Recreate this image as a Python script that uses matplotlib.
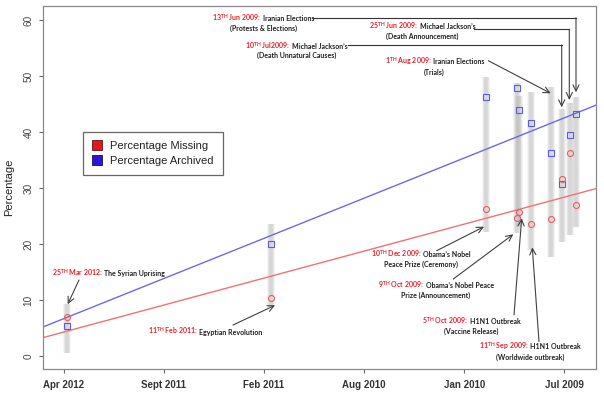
import matplotlib
matplotlib.use('Agg')
import matplotlib.pyplot as plt
from matplotlib.offsetbox import TextArea, HPacker, VPacker, AnnotationBbox
from matplotlib.lines import Line2D
import datetime as dt

plt.rcParams['mathtext.fontset'] = 'custom'
plt.rcParams['mathtext.rm'] = 'Lato'
plt.rcParams['mathtext.bf'] = 'Lato:bold'

# ---------------- data ----------------
event_dates = ['2012-03-25', '2011-02-11', '2009-12-10', '2009-10-09', '2009-10-05',
               '2009-09-11', '2009-08-01', '2009-07-10', '2009-06-25', '2009-06-13']
pct_missing = [7.0, 10.4, 26.2, 24.6, 25.7, 23.5, 24.5, 31.6, 36.3, 27.0]
pct_archived = [5.4, 20.1, 46.2, 47.9, 43.9, 41.7, 36.3, 30.8, 39.5, 43.2]
range_low = [0.5, 8.7, 22.2, 22.0, 23.0, 18.9, 17.7, 20.4, 21.6, 23.1]
range_high = [9.3, 23.6, 49.9, 48.8, 46.5, 47.2, 48.1, 44.2, 45.1, 46.3]

trend_dates = ['2012-05-12', '2009-05-04']
trend_archived = [5.2, 44.8]
trend_missing = [3.3, 29.9]

tick_dates = ['2012-04-01', '2011-09-14', '2011-02-26', '2010-08-10', '2010-01-22', '2009-07-06']
tick_labels = ['Apr 2012', 'Sept 2011', 'Feb 2011', 'Aug 2010', 'Jan 2010', 'Jul 2009']
y_ticks = [0, 10, 20, 30, 40, 50, 60]

ann_date = [r'25$^{\mathbf{TH}}$ Mar 2012:', r'11$^{\mathbf{TH}}$ Feb 2011:',
            r'10$^{\mathbf{TH}}$ Dec 2009:', r'9$^{\mathbf{TH}}$ Oct 2009:',
            r'5$^{\mathbf{TH}}$ Oct 2009:', r'11$^{\mathbf{TH}}$ Sep 2009:',
            r'1$^{\mathbf{TH}}$ Aug 2009:', r'10$^{\mathbf{TH}}$ Jul2009:',
            r'25$^{\mathbf{TH}}$ Jun 2009:', r'13$^{\mathbf{TH}}$ Jun 2009:']
ann_title = ['The Syrian Uprising', 'Egyptian Revolution', 'Obama\u2019s Nobel',
             'Obama\u2019s Nobel Peace', 'H1N1 Outbreak', 'H1N1 Outbreak',
             'Iranian Elections', 'Michael Jackson\u2019s', 'Michael Jackson\u2019s',
             'Iranian Elections']
ann_sub = [None, None, 'Peace Prize (Ceremony)', 'Prize (Announcement)',
           '(Vaccine Release)', '(Worldwide outbreak)', '(Trials)',
           '(Death Unnatural Causes)', '(Death Announcement)', '(Protests & Elections)']

# ---------------- layout ----------------
W, H = 604, 394
fig = plt.figure(figsize=(W / 100, H / 100), dpi=100)
ax = fig.add_axes([43 / W, 1 - 369 / H, 553 / W, 363 / H])

def d(s):
    return dt.datetime.fromisoformat(s)

xd = [d(s) for s in event_dates]

# grey range bars (soft edges)
for lw, a in [(5.6, 0.16), (4.2, 0.22), (2.6, 0.28)]:
    ax.vlines(xd, range_low, range_high, colors='#b4b4b4', linewidth=lw, alpha=a, zorder=1)

# trend lines
td = [d(s) for s in trend_dates]
ax.plot(td, trend_archived, color='#6a6ae8', lw=1.0, zorder=2)
ax.plot(td, trend_missing, color='#f07272', lw=1.0, zorder=2)

# points
ax.plot(xd, pct_archived, ls='none', marker='s', ms=3.8, mfc='none', mec='#5a5ae6', mew=0.8, zorder=3)
ax.plot(xd, pct_missing, ls='none', marker='o', ms=4.3, mfc='none', mec='#f05a5a', mew=0.8, zorder=3)

ax.set_xlim(d('2012-05-12'), d('2009-05-04'))
ax.set_ylim(-2.3, 62.5)
ax.set_xticks([d(s) for s in tick_dates])
ax.set_xticklabels(tick_labels, fontfamily='Liberation Sans', fontweight='bold', fontsize=7, color='#333333')
ax.set_yticks(y_ticks)
ax.set_yticklabels([str(v) for v in y_ticks], fontfamily='Liberation Sans', fontsize=7.2,
                   color='#444444', rotation=90, va='center')
ax.tick_params(axis='both', length=3, width=0.8, color='#666666')
ax.tick_params(axis='x', pad=5)
ax.tick_params(axis='y', pad=4)
for sp in ax.spines.values():
    sp.set_color('#8a8a8a')
    sp.set_linewidth(0.9)

ax.set_ylabel('Percentage', fontfamily='Liberation Sans', fontsize=8, color='#222222')
ax.yaxis.set_label_coords(-0.052, 0.5)

# legend
handles = [Line2D([], [], ls='none', marker='s', ms=6.5, mfc='#e3161c', mec='#6a1010', mew=0.6),
           Line2D([], [], ls='none', marker='s', ms=6.5, mfc='#2c14d8', mec='#10105a', mew=0.6)]
leg = ax.legend(handles, ['Percentage Missing', 'Percentage Archived'],
                loc='upper left', bbox_to_anchor=((83 - 43) / 553, (369 - 132) / 363),
                borderaxespad=0, fancybox=False, framealpha=1, edgecolor='#666666',
                prop={'family': 'Liberation Sans', 'size': 8}, labelspacing=0.42,
                handlelength=0.9, handletextpad=0.75, borderpad=0.82, labelcolor='#222222')
leg.get_frame().set_linewidth(0.9)

# annotations
RED = '#e8202a'
BLK = '#1e1e1e'
FS = 5.0
afont = 'Lato'

def fp(x, y):
    return (x, H - y)

text_centers = [(108.5, 272.7), (205, 331), (420.5, 258.3), (436, 288.7), (471.5, 325.3),
                (530, 350.3), (434.5, 65.8), (296.5, 49.5), (422.3, 30.3), (263.5, 22)]

for i in range(len(ann_date)):
    t1 = TextArea(ann_date[i], textprops=dict(color=RED, fontsize=FS, fontweight='bold', family=afont))
    t2 = TextArea(ann_title[i], textprops=dict(color=BLK, fontsize=FS, fontweight='bold', family=afont))
    line1 = HPacker(children=[t1, t2], align='baseline', pad=0, sep=1.2)
    if ann_sub[i] is not None:
        t3 = TextArea(ann_sub[i], textprops=dict(color=BLK, fontsize=FS, fontweight='bold', family=afont))
        box = VPacker(children=[line1, t3], align='center', pad=0, sep=1.0)
    else:
        box = line1
    ab = AnnotationBbox(box, fp(*text_centers[i]), xycoords='figure pixels', frameon=False,
                        box_alignment=(0.5, 0.5), pad=0, annotation_clip=False)
    fig.add_artist(ab)

arrow_kw = dict(arrowstyle='->,head_length=0.45,head_width=0.22', color='#404040', lw=0.8,
                shrinkA=0, shrinkB=0)
straight_arrows = [((79, 280), (67.7, 304.3)), ((233, 325), (275, 305.3)),
                   ((436.7, 250.7), (484, 226.7)), ((453.3, 279), (513.3, 234.3)),
                   ((514, 315), (521.7, 218.3)), ((539, 341.7), (532.3, 247.3)),
                   ((488.3, 60.7), (550.7, 93.3))]
for (a, b) in straight_arrows:
    ax.annotate('', xy=fp(*b), xytext=fp(*a), xycoords='figure pixels', textcoords='figure pixels',
                arrowprops=arrow_kw, annotation_clip=False)

elbow_arrows = [((348, 45), (561.7, 45), (561.7, 107.3)),
                ((474.3, 29.3), (569.3, 29.3), (569.3, 100)),
                ((313, 17.7), (576, 17.7), (576, 92.3))]
for (a, c, b) in elbow_arrows:
    fig.add_artist(Line2D([a[0] / W, c[0] / W], [1 - a[1] / H, 1 - c[1] / H],
                          transform=fig.transFigure, color='#333333', lw=0.8))
    ax.annotate('', xy=fp(*b), xytext=fp(*c), xycoords='figure pixels', textcoords='figure pixels',
                arrowprops=arrow_kw, annotation_clip=False)

fig.savefig('out.png', dpi=100)
